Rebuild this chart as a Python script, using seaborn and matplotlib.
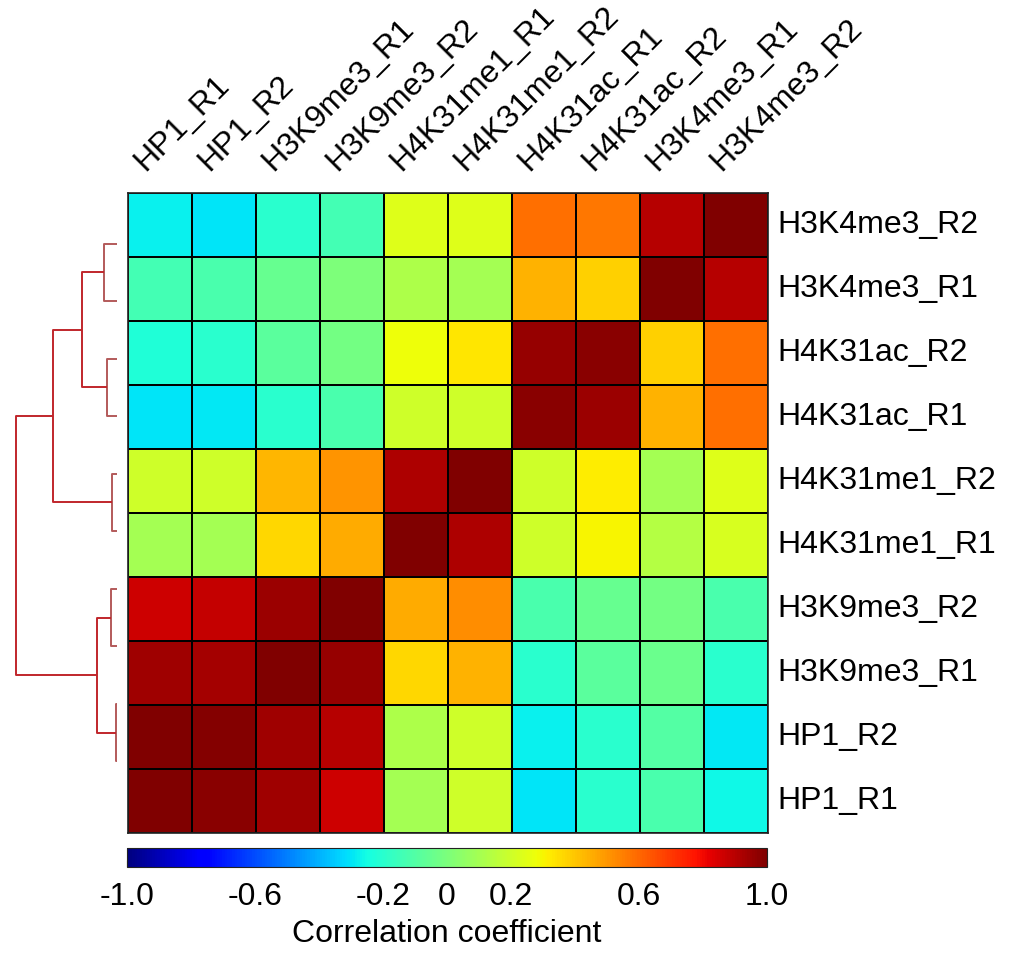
import matplotlib.pyplot as plt
import matplotlib.transforms as mtransforms
import seaborn as sns
import numpy as np
import pandas as pd

# ---------------- data ----------------
col_labels = ["HP1_R1", "HP1_R2", "H3K9me3_R1", "H3K9me3_R2",
              "H4K31me1_R1", "H4K31me1_R2", "H4K31ac_R1", "H4K31ac_R2",
              "H3K4me3_R1", "H3K4me3_R2"]

row_labels = ["H3K4me3_R2", "H3K4me3_R1", "H4K31ac_R2", "H4K31ac_R1",
              "H4K31me1_R2", "H4K31me1_R1", "H3K9me3_R2", "H3K9me3_R1",
              "HP1_R2", "HP1_R1"]

corr_values = [
    [-0.28, -0.30, -0.20, -0.14, 0.24, 0.24, 0.58, 0.57, 0.90, 1.00],
    [-0.14, -0.12, -0.05, 0.00, 0.12, 0.10, 0.44, 0.38, 1.00, 0.90],
    [-0.22, -0.20, -0.08, -0.02, 0.28, 0.33, 0.96, 0.98, 0.38, 0.58],
    [-0.30, -0.29, -0.20, -0.12, 0.20, 0.20, 0.98, 0.95, 0.44, 0.58],
    [0.20, 0.20, 0.43, 0.50, 0.92, 1.00, 0.20, 0.32, 0.10, 0.24],
    [0.10, 0.10, 0.36, 0.46, 1.00, 0.92, 0.20, 0.30, 0.14, 0.22],
    [0.86, 0.88, 0.95, 1.00, 0.46, 0.52, -0.12, -0.05, -0.02, -0.12],
    [0.94, 0.93, 1.00, 0.96, 0.36, 0.44, -0.20, -0.08, -0.04, -0.20],
    [1.00, 0.99, 0.94, 0.90, 0.12, 0.20, -0.28, -0.20, -0.10, -0.29],
    [1.00, 0.98, 0.94, 0.86, 0.10, 0.20, -0.30, -0.20, -0.12, -0.26],
]

# row dendrogram (leaves 0..9 = rows top to bottom), scipy-like linkage
link_a = [8, 6, 4, 2, 0, 11, 14, 16, 17]
link_b = [9, 7, 5, 3, 1, 10, 13, 12, 15]
link_h = [1.5, 6, 5, 10, 13, 20, 35, 64, 101]

cbar_ticks = [-1.0, -0.8, -0.6, -0.4, -0.2, 0.0, 0.2, 0.4, 0.6, 0.8, 1.0]
cbar_labels = ["-1.0", "", "-0.6", "", "-0.2", "0", "0.2", "", "0.6", "", "1.0"]

# ---------------- style ----------------
sns.set_theme(style="white")
plt.rcParams["font.family"] = ["Liberation Sans", "DejaVu Sans"]
plt.rcParams["font.size"] = 23
plt.rcParams["text.color"] = "black"
plt.rcParams["axes.labelcolor"] = "black"
plt.rcParams["xtick.color"] = "black"
plt.rcParams["ytick.color"] = "black"

FS = 23
W, H = 1010, 955
fig = plt.figure(figsize=(W / 100, H / 100), dpi=100)

ax = fig.add_axes([128 / W, 1 - 833 / H, 640 / W, 640 / H])
cax = fig.add_axes([127 / W, 1 - 867 / H, 640 / W, 19 / H])
dax = fig.add_axes([16 / W, 1 - 790 / H, 101 / W, 575 / H])

df = pd.DataFrame(corr_values, index=row_labels, columns=col_labels)

sns.heatmap(df, ax=ax, cmap="jet", vmin=-1, vmax=1,
            linewidths=1.3, linecolor="black",
            cbar_ax=cax, cbar_kws={"orientation": "horizontal"})

# outer frame
for s in ax.spines.values():
    s.set_visible(True)
    s.set_linewidth(1.2)
    s.set_color("#222222")

# column labels on top, rotated
ax.tick_params(axis="x", top=False, bottom=False, labeltop=True,
               labelbottom=False, length=0, pad=12)
ax.set_xticklabels(col_labels, rotation=45, ha="left", va="bottom",
                   rotation_mode="anchor", fontsize=FS, color="black")
shift = mtransforms.ScaledTranslation(-7 / 72, 0, fig.dpi_scale_trans)
for lbl in ax.get_xticklabels():
    lbl.set_transform(lbl.get_transform() + shift)

# row labels on the right
ax.yaxis.tick_right()
ax.tick_params(axis="y", left=False, right=False, labelleft=False,
               labelright=True, length=0, pad=7)
ax.set_yticklabels(row_labels, rotation=0, fontsize=FS, va="center",
                   color="black")
ax.set_xlabel("")
ax.set_ylabel("")

# colorbar
cbar = ax.collections[0].colorbar
cbar.set_ticks(cbar_ticks)
cbar.set_ticklabels(cbar_labels)
cbar.outline.set_linewidth(0.8)
cbar.outline.set_edgecolor("#222222")
cax.tick_params(direction="in", length=5, width=0.8, color="#444444",
                labelcolor="black", pad=11, labelsize=FS, bottom=True)
cbar.set_label("Correlation coefficient", fontsize=FS, labelpad=5,
               color="black")

# dendrogram drawn from linkage
pos = {i: float(i) for i in range(len(row_labels))}
hgt = {i: 0.0 for i in range(len(row_labels))}
n = len(row_labels)
for k, (a, b, h) in enumerate(zip(link_a, link_b, link_h)):
    color = "#c0262b" if h >= 20 else "#b35a5a"
    dax.plot([hgt[a], h, h, hgt[b]], [pos[a], pos[a], pos[b], pos[b]],
             color=color, lw=1.4, clip_on=False, solid_capstyle="butt")
    pos[n + k] = (pos[a] + pos[b]) / 2
    hgt[n + k] = h

dax.set_xlim(max(link_h), 0)
dax.set_ylim(n - 0.5, -0.5)
dax.axis("off")

fig.savefig("out.png", dpi=100)
